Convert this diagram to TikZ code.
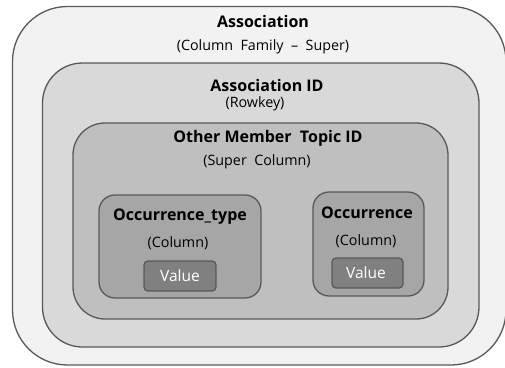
\documentclass[tikz,border=0pt]{standalone}
\usepackage{fontspec}
\setmainfont{Open Sans}
\definecolor{edge}{HTML}{595959}
\definecolor{lvA}{HTML}{F2F2F2}
\definecolor{lvB}{HTML}{D9D9D9}
\definecolor{lvC}{HTML}{BFBFBF}
\definecolor{lvD}{HTML}{A6A6A6}
\definecolor{lvE}{HTML}{808080}
\tikzset{
  box/.style={draw=edge, line width=1.3pt},
  title/.style={font=\fontsize{16}{18}\selectfont\bfseries, inner sep=0pt, text=black},
  sub/.style={font=\fontsize{14.3}{16}\selectfont, inner sep=0pt, text=black},
  valtext/.style={font=\fontsize{15.5}{17}\selectfont, inner sep=0pt, text=white},
}
\begin{document}
\begin{tikzpicture}[x=1pt,y=-1pt]
\useasboundingbox (0,0) rectangle (505,367);
\fill[white] (0,0) rectangle (505,367);
\draw[box, fill=lvA, rounded corners=55pt] (12.5,6.5) rectangle (506,365);
\draw[box, fill=lvB, rounded corners=40pt] (42.5,63) rectangle (479,347);
\draw[box, fill=lvC, rounded corners=32pt] (73,123) rectangle (448,319);
\draw[box, fill=lvD, rounded corners=16pt] (99,195) rectangle (261,298);
\draw[box, fill=lvD, rounded corners=16pt] (313,192) rectangle (424,296);
\draw[box, fill=lvE, rounded corners=4pt] (144,261) rectangle (216,291);
\draw[box, fill=lvE, rounded corners=4pt] (332,258) rectangle (403,288);
\node[title] (t1) at (263,21) {Association};
\node[sub] (s1) at (263,47) {(Column\ \ Family\ \ --\ \ Super)};
\node[title] (t2) at (267,85) {Association ID};
\node[sub] (s2) at (255,104) {(Rowkey)};
\node[title] (t3) at (268,138) {Other Member\ \ Topic ID};
\node[sub] (s3) at (257,162) {(Super\ \ Column)};
\node[title] (t4) at (180,217) {Occurrence\_type};
\node[sub] (s4) at (178,243) {(Column)};
\node[valtext] (v1) at (180,276) {Value};
\node[title] (t5) at (367,213) {Occurrence};
\node[sub] (s5) at (366,241) {(Column)};
\node[valtext] (v2) at (366,273) {Value};
\end{tikzpicture}
\end{document}
